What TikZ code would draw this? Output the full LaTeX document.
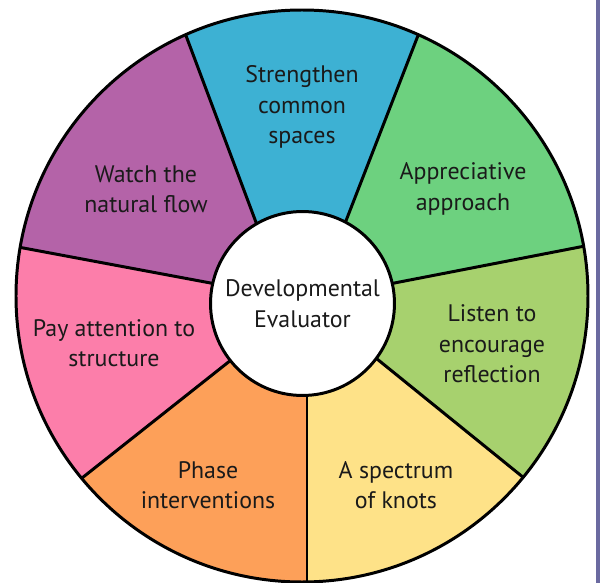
\documentclass[tikz,border=0pt]{standalone}
\usepackage{fontspec}
\setmainfont{PT Sans}
\usetikzlibrary{calc}
\definecolor{wedgeblue}{HTML}{3DB1D3}
\definecolor{wedgegreen}{HTML}{6DD17F}
\definecolor{wedgelime}{HTML}{A7D16E}
\definecolor{wedgeyellow}{HTML}{FEE288}
\definecolor{wedgeorange}{HTML}{FDA059}
\definecolor{wedgepink}{HTML}{FC7EAA}
\definecolor{wedgepurple}{HTML}{B463A8}
\definecolor{edgebar}{HTML}{6B6AA0}
\definecolor{ink}{HTML}{1A1A1A}
\begin{document}
\begin{tikzpicture}[x=0.02cm,y=0.02cm,font=\fontsize{13.6}{17.3}\selectfont,
  rim/.style={line width=1.7pt},
  lbl/.style={align=center,inner sep=0pt,text=ink},
  hub/.style={circle,draw,rim,fill=white,minimum size=3.68cm,inner sep=0pt,align=center,text=ink}]
\useasboundingbox (0,0) rectangle (600,583);
\fill[edgebar] (596.5,0) rectangle (600,583);
% wheel centre, rim points and hub points
\coordinate (C) at (302,287);
\coordinate (c) at (302.5,279.5);
\coordinate (o1) at (185,550);
\coordinate (o2) at (419,550);
\coordinate (o3) at (585,337);
\coordinate (o4) at (524,105);
\coordinate (o5) at (307,0);
\coordinate (o6) at (82,105);
\coordinate (o7) at (18,336);
\coordinate (i1) at (255.6,361.8);
\coordinate (i2) at (346.3,363);
\coordinate (i3) at (393.4,299.8);
\coordinate (i4) at (378.9,222.5);
\coordinate (i5) at (307,184);
\coordinate (i6) at (228.9,221.3);
\coordinate (i7) at (211.6,299.8);
\begin{scope}
\clip (C) circle (286);
\fill[wedgeblue] (c) -- (i1) -- (o1) -- ($(C)!1.6!(o1)$) -- ($(C)!1.6!(o2)$) -- (o2) -- (i2) -- cycle;
\fill[wedgegreen] (c) -- (i2) -- (o2) -- ($(C)!1.6!(o2)$) -- ($(C)!1.6!(o3)$) -- (o3) -- (i3) -- cycle;
\fill[wedgelime] (c) -- (i3) -- (o3) -- ($(C)!1.6!(o3)$) -- ($(C)!1.6!(o4)$) -- (o4) -- (i4) -- cycle;
\fill[wedgeyellow] (c) -- (i4) -- (o4) -- ($(C)!1.6!(o4)$) -- ($(C)!1.6!(o5)$) -- (o5) -- (i5) -- cycle;
\fill[wedgeorange] (c) -- (i5) -- (o5) -- ($(C)!1.6!(o5)$) -- ($(C)!1.6!(o6)$) -- (o6) -- (i6) -- cycle;
\fill[wedgepink] (c) -- (i6) -- (o6) -- ($(C)!1.6!(o6)$) -- ($(C)!1.6!(o7)$) -- (o7) -- (i7) -- cycle;
\fill[wedgepurple] (c) -- (i7) -- (o7) -- ($(C)!1.6!(o7)$) -- ($(C)!1.6!(o1)$) -- (o1) -- (i1) -- cycle;
\foreach \k in {1,...,7}
  \draw[rim] (o\k) -- ($(o\k)!1.08!(i\k)$);
\end{scope}
\draw[rim] (C) circle (286);
\node[hub] (dev) at (c) {Developmental\\Evaluator};
% wedge labels
\node[lbl] (common) at (302,476) {Strengthen\\common\\spaces};
\node[lbl] (apprec) at (463,394) {Appreciative\\approach};
\node[lbl] (listen) at (492,239) {Listen to\\encourage\\reflection};
\node[lbl] (knots) at (396,98) {A spectrum\\of knots};
\node[lbl] (phase) at (208,98) {Phase\\interventions};
\node[lbl] (struct) at (114,240) {Pay attention to\\structure};
\node[lbl] (flow) at (146,394) {Watch the\\natural flow};
\end{tikzpicture}
\end{document}
